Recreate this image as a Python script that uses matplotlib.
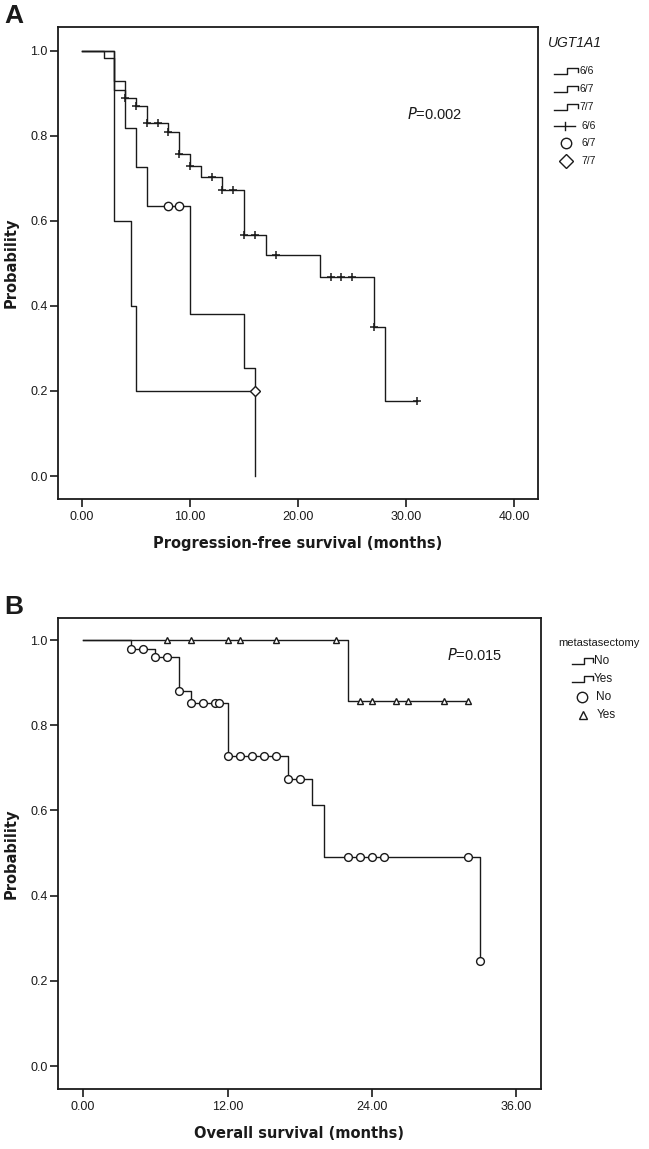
import numpy as np
import matplotlib
matplotlib.use("Agg")
import matplotlib.pyplot as plt
from matplotlib.lines import Line2D

# ---------------- data: panel A (UGT1A1, progression-free survival) ----------------
g66_times = [0, 2, 3, 4, 5, 6, 8, 9, 10, 11, 13, 15, 17, 22, 27, 28]
g66_surv = [1.0, 0.983, 0.928, 0.889, 0.871, 0.831, 0.809, 0.757, 0.730, 0.704,
            0.673, 0.567, 0.520, 0.469, 0.351, 0.176]
g66_end = 31
g66_censor = [4, 5, 6, 7, 8, 9, 10, 12, 13, 14, 15, 16, 18, 23, 24, 25, 27, 31]

g67_times = [0, 3, 4, 5, 6, 10, 15, 16]
g67_surv = [1.0, 0.909, 0.818, 0.727, 0.636, 0.382, 0.255, 0.0]
g67_end = 16
g67_censor = [8, 9]

g77_times = [0, 3, 4.5, 5]
g77_surv = [1.0, 0.6, 0.4, 0.2]
g77_end = 16
g77_censor = [16]

a_xticks = [0, 10, 20, 30, 40]
a_xticklabels = ["0.00", "10.00", "20.00", "30.00", "40.00"]

# ---------------- data: panel B (metastasectomy, overall survival) ----------------
no_times = [0, 4, 6, 8, 9, 12, 17, 19, 20, 33]
no_surv = [1.0, 0.980, 0.961, 0.881, 0.853, 0.728, 0.675, 0.614, 0.491, 0.246]
no_end = 33
no_censor = [4, 5, 6, 7, 8, 9, 10, 11, 11.3, 12, 13, 14, 15, 16, 17, 18,
             22, 23, 24, 25, 32, 33]

yes_times = [0, 22]
yes_surv = [1.0, 0.857]
yes_end = 32
yes_censor = [7, 9, 12, 13, 16, 21, 23, 24, 26, 27, 30, 32]

b_xticks = [0, 12, 24, 36]
b_xticklabels = ["0.00", "12.00", "24.00", "36.00"]

yticks = [0.0, 0.2, 0.4, 0.6, 0.8, 1.0]
yticklabels = ["0.0", "0.2", "0.4", "0.6", "0.8", "1.0"]

# ---------------- figure ----------------
W, H = 649, 1149
fig = plt.figure(figsize=(W / 100, H / 100), dpi=100)
fig.patch.set_facecolor("white")

TICKFONT = "Liberation Sans"
LABELFONT = "DejaVu Sans"
INK = "#1a1a1a"


def fx(x):
    return x / W


def fy(y):
    return 1 - y / H


def km(ax, times, surv, end, censor, marker, ms, mew=1.0, mfc="white"):
    t = list(times)
    s = list(surv)
    if end > t[-1]:
        t.append(end)
        s.append(s[-1])
    ax.step(t, s, where="post", color=INK, lw=1.0, zorder=2)
    tt = np.array(times, dtype=float)
    ss = np.array(surv, dtype=float)
    idx = np.searchsorted(tt, np.array(censor, dtype=float), side="right") - 1
    ax.plot(censor, ss[idx], linestyle="none", marker=marker, ms=ms,
            mew=mew, mec=INK, mfc=mfc, color=INK, zorder=3)


def style_axes(ax, xticks, xticklabels, xlabel):
    for sp in ax.spines.values():
        sp.set_color(INK)
        sp.set_linewidth(1.3)
    ax.set_xticks(xticks)
    ax.set_xticklabels(xticklabels, fontfamily=TICKFONT, fontsize=9)
    ax.set_yticks(yticks)
    ax.set_yticklabels(yticklabels, fontfamily=TICKFONT, fontsize=9)
    ax.tick_params(axis="both", direction="out", length=6, width=1.2,
                   color=INK, labelcolor=INK)
    ax.tick_params(axis="x", pad=3)
    ax.tick_params(axis="y", pad=1.5)
    ax.set_xlabel(xlabel, fontfamily=LABELFONT, fontweight="bold",
                  fontsize=10.5, color=INK, labelpad=9)
    ax.set_ylabel("Probability", fontfamily=LABELFONT, fontweight="bold",
                  fontsize=10.5, color=INK, labelpad=8)


# Panel A
axA = fig.add_axes([fx(58), fy(499), fx(538) - fx(58), fy(27) - fy(499)])
axA.set_xlim(-2.22, 42.2)
axA.set_ylim(-0.054, 1.056)
km(axA, g67_times, g67_surv, g67_end, g67_censor, "o", 6.0)
km(axA, g77_times, g77_surv, g77_end, g77_censor, "D", 5.5)
km(axA, g66_times, g66_surv, g66_end, g66_censor, "+", 6.0, mew=1.1)
style_axes(axA, a_xticks, a_xticklabels, "Progression-free survival (months)")
axA.text(35.2, 0.852, "$P$=0.002", ha="right", va="center",
         fontfamily=TICKFONT, fontsize=10.5, color=INK)

# Panel B
axB = fig.add_axes([fx(58), fy(1089), fx(541) - fx(58), fy(618) - fy(1089)])
axB.set_xlim(-2.08, 38.04)
axB.set_ylim(-0.054, 1.052)
km(axB, yes_times, yes_surv, yes_end, yes_censor, "^", 4.0)
km(axB, no_times, no_surv, no_end, no_censor, "o", 5.6)
style_axes(axB, b_xticks, b_xticklabels, "Overall survival (months)")
axB.text(34.8, 0.965, "$P$=0.015", ha="right", va="center",
         fontfamily=TICKFONT, fontsize=10.5, color=INK)

# Panel letters
fig.text(fx(4), fy(16), "A", fontfamily=TICKFONT, fontweight="bold",
         fontsize=19, ha="left", va="center", color=INK)
fig.text(fx(4), fy(607), "B", fontfamily=TICKFONT, fontweight="bold",
         fontsize=19, ha="left", va="center", color=INK)


# ---------------- legends (drawn in figure coordinates) ----------------
def step_symbol(x0, x1, yc, h=6):
    xm = (x0 + x1) / 2 + 1
    xs = [x0, xm, xm, x1, x1]
    ys = [yc + h / 2, yc + h / 2, yc - h / 2, yc - h / 2, yc + 1]
    fig.add_artist(Line2D([fx(v) for v in xs], [fy(v) for v in ys],
                          transform=fig.transFigure, color=INK, lw=1.0))


def marker_symbol(xc, yc, marker, ms, mew=1.0):
    fig.add_artist(Line2D([fx(xc)], [fy(yc)], transform=fig.transFigure,
                          linestyle="none", marker=marker, ms=ms, mew=mew,
                          mec=INK, mfc="white"))


def plus_symbol(x0, x1, yc):
    fig.add_artist(Line2D([fx(x0), fx(x1)], [fy(yc), fy(yc)],
                          transform=fig.transFigure, color=INK, lw=1.0))
    xm = (x0 + x1) / 2
    fig.add_artist(Line2D([fx(xm), fx(xm)], [fy(yc - 4), fy(yc + 4)],
                          transform=fig.transFigure, color=INK, lw=1.0))


# Legend A
a_leg_title = "UGT1A1"
a_leg_labels = ["6/6", "6/7", "7/7", "6/6", "6/7", "7/7"]
a_leg_rows = [71, 89, 107, 126, 143, 161]
fig.text(fx(548), fy(43), a_leg_title, fontfamily=TICKFONT, style="italic",
         fontsize=10, ha="left", va="center", color=INK)
for i, (lab, yr) in enumerate(zip(a_leg_labels, a_leg_rows)):
    if i < 3:
        step_symbol(554, 578, yr)
        tx = 579
    elif i == 3:
        plus_symbol(554, 575, yr)
        tx = 581
    elif i == 4:
        marker_symbol(566, yr, "o", 7.5)
        tx = 581
    else:
        marker_symbol(566, yr, "D", 7.5)
        tx = 581
    fig.text(fx(tx), fy(yr), lab, fontfamily=TICKFONT, fontsize=7.5,
             ha="left", va="center", color=INK)

# Legend B
b_leg_title = "metastasectomy"
b_leg_labels = ["No", "Yes", "No", "Yes"]
b_leg_rows = [661, 679, 697, 715]
fig.text(fx(558), fy(643), b_leg_title, fontfamily=TICKFONT,
         fontsize=8, ha="left", va="center", color=INK)
for i, (lab, yr) in enumerate(zip(b_leg_labels, b_leg_rows)):
    if i < 2:
        step_symbol(572, 593, yr)
        tx = 594
    elif i == 2:
        marker_symbol(582, yr, "o", 7.5)
        tx = 596
    else:
        marker_symbol(583, yr, "^", 5.5)
        tx = 597
    fig.text(fx(tx), fy(yr), lab, fontfamily=TICKFONT, fontsize=8.5,
             ha="left", va="center", color=INK)

fig.savefig("out.png", dpi=100, facecolor="white")
